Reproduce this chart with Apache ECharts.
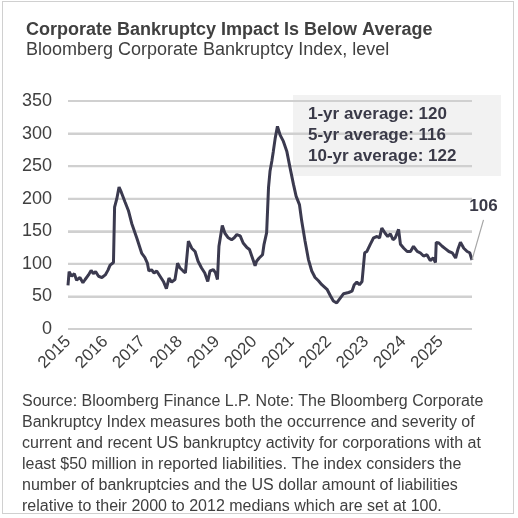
<!DOCTYPE html>
<html>
<head>
<meta charset="utf-8">
<script src="https://cdn.jsdelivr.net/npm/echarts@6/dist/echarts.min.js"></script>
<style>
html,body{margin:0;padding:0;background:#fff;}
#wrap{position:relative;width:518px;height:518px;}
#c{width:518px;height:518px;}
#frame{position:absolute;left:2px;top:1px;width:510px;height:511px;border:1.5px solid #d0d0d0;pointer-events:none;}
</style>
</head>
<body>
<div id="wrap"><div id="c"></div><div id="frame"></div></div>
<script>
const titleText = "Corporate Bankruptcy Impact Is Below Average";
const subtitleText = "Bloomberg Corporate Bankruptcy Index, level";
const noteLines = [
  "Source: Bloomberg Finance L.P. Note: The Bloomberg Corporate",
  "Bankruptcy Index measures both the occurrence and severity of",
  "current and recent US bankruptcy activity for corporations with at",
  "least $50 million in reported liabilities. The index considers the",
  "number of bankruptcies and the US dollar amount of liabilities",
  "relative to their 2000 to 2012 medians which are set at 100."
];
const averageLines = ["1-yr average: 120", "5-yr average: 116", "10-yr average: 122"];
const yTicks = [0, 50, 100, 150, 200, 250, 300, 350];

// time in fractional years, index level
const dates = [
  2015.00,2015.03,2015.10,2015.17,2015.23,2015.32,2015.40,2015.46,2015.55,2015.62,2015.68,2015.74,2015.82,2015.91,
  2016.00,2016.07,2016.13,2016.22,2016.25,2016.31,2016.37,2016.43,2016.53,2016.62,2016.71,2016.85,2016.98,
  2017.06,2017.13,2017.17,2017.24,2017.31,2017.38,2017.47,2017.56,2017.64,2017.71,2017.78,2017.87,2017.94,
  2018.00,2018.09,2018.15,2018.23,2018.32,2018.41,2018.49,2018.58,2018.67,2018.75,2018.81,2018.90,2018.96,
  2019.01,2019.05,2019.14,2019.21,2019.30,2019.39,2019.46,2019.53,2019.62,2019.70,2019.80,2019.87,2019.93,
  2020.02,2020.06,2020.13,2020.22,2020.26,2020.33,2020.38,2020.42,2020.47,2020.51,2020.56,2020.62,2020.69,2020.78,2020.87,2020.96,
  2021.05,2021.12,2021.21,2021.27,2021.36,2021.45,2021.54,2021.63,2021.72,2021.81,2021.95,
  2022.04,2022.12,2022.21,2022.30,2022.39,2022.53,2022.62,2022.68,2022.75,2022.82,2022.89,2022.93,2022.96,
  2023.02,2023.11,2023.20,2023.29,2023.36,2023.42,2023.51,2023.58,2023.65,2023.72,2023.78,2023.87,2023.92,
  2024.01,2024.10,2024.19,2024.27,2024.37,2024.45,2024.54,2024.63,2024.72,2024.80,2024.86,2024.88,2024.95,
  2025.04,2025.13,2025.22,2025.31,2025.40,2025.46,2025.53,2025.62,2025.71,2025.78,2025.84
];
const values = [
  67,88,81,85,75,79,71,76,83,90,85,88,81,79,
  83,90,98,102,187,200,218,210,195,182,162,139,116,
  110,101,89,91,86,89,81,73,62,78,72,76,101,
  94,89,86,135,124,119,104,94,86,73,89,91,86,
  76,127,159,147,140,137,140,145,143,132,125,122,112,
  97,104,109,114,130,148,217,242,258,273,293,311,298,288,273,247,
  222,204,191,166,135,107,89,79,74,68,61,
  51,43,40,47,54,56,58,68,72,68,73,76,117,
  119,130,140,142,140,155,147,142,146,137,140,153,130,
  124,119,119,127,119,117,112,114,105,109,102,133,132,
  127,123,119,117,109,122,133,124,119,117,106
];

const textColor = "#404040";
const lineColor = "#3b3a4f";
const gridColor = "#d0d0d0";
const FONT = "Liberation Sans, Arial, Helvetica, sans-serif";

const chart = echarts.init(document.getElementById('c'), null, {renderer: 'canvas'});
const seriesData = dates.map((d, i) => [d, values[i]]);
const xMin = 2015, xMax = dates[dates.length - 1];

// one flat line series per y tick, acting as horizontal gridlines
const gridSeries = yTicks.map(v => ({
  type: 'line',
  data: [[xMin, v], [xMax, v]],
  showSymbol: false,
  symbol: 'none',
  silent: true,
  z: 4,
  lineStyle: {color: gridColor, width: 2, type: 'solid'},
  emphasis: {disabled: true}
}));

const option = {
  animation: false,
  tooltip: {show: false},
  grid: {left: 68, right: 46, top: 101, bottom: 189, containLabel: false},
  xAxis: {
    type: 'value',
    min: xMin,
    max: xMax,
    interval: 1,
    axisLine: {show: false},
    axisTick: {show: false},
    splitLine: {show: false},
    axisLabel: {
      rotate: 45,
      margin: 10,
      color: textColor,
      fontSize: 17,
      fontFamily: FONT,
      showMaxLabel: false,
      formatter: v => (Math.abs(v - Math.round(v)) < 1e-6 ? String(Math.round(v)) : '')
    }
  },
  yAxis: {
    type: 'value',
    min: yTicks[0],
    max: yTicks[yTicks.length - 1],
    interval: 50,
    axisLine: {show: false},
    axisTick: {show: false},
    splitLine: {show: true, lineStyle: {color: gridColor, width: 2}},
    axisLabel: {margin: 16, color: textColor, fontSize: 18, fontFamily: FONT}
  },
  graphic: [
    {id: 'avgbox', type: 'rect', z: -1, silent: true,
     shape: {x: 293, y: 95, width: 208, height: 81},
     style: {fill: '#f2f2f2'}},
    {id: 'avgtext', type: 'text', z: 10, left: 308, top: 103.5,
     style: {text: averageLines.join('\n'), font: 'bold 17px ' + FONT, fill: '#3a3a48', lineHeight: 21}},
    {id: 'title', type: 'text', left: 26, top: 21,
     style: {text: titleText, font: 'bold 18px ' + FONT, fill: textColor}},
    {id: 'subtitle', type: 'text', left: 26, top: 41.5,
     style: {text: subtitleText, font: '18px ' + FONT, fill: textColor}},
    {id: 'note', type: 'text', left: 22, top: 391,
     style: {text: noteLines.join('\n'), font: '16px ' + FONT, fill: textColor, lineHeight: 21}}
  ],
  series: gridSeries.concat([
    {
      type: 'line',
      data: seriesData,
      showSymbol: false,
      symbol: 'none',
      lineStyle: {color: lineColor, width: 3},
      z: 5
    }
  ])
};
chart.setOption(option);

// last-value callout positioned through the chart's own scales
const lastX = dates[dates.length - 1];
const lastY = values[values.length - 1];
const p = chart.convertToPixel({xAxisIndex: 0, yAxisIndex: 0}, [lastX, lastY]);
chart.setOption({graphic: [
  {id: 'leader', type: 'line', z: 6, silent: true,
   shape: {x1: p[0], y1: p[1], x2: p[0] + 11.5, y2: p[1] - 40},
   style: {stroke: '#a6a6a6', lineWidth: 1.2}},
  {id: 'lastlabel', type: 'text', z: 6, x: p[0] + 11.5, y: p[1] - 54,
   style: {text: String(lastY), font: 'bold 17px ' + FONT, fill: '#3a3a48', align: 'center', verticalAlign: 'middle'}}
]});
</script>
</body>
</html>
